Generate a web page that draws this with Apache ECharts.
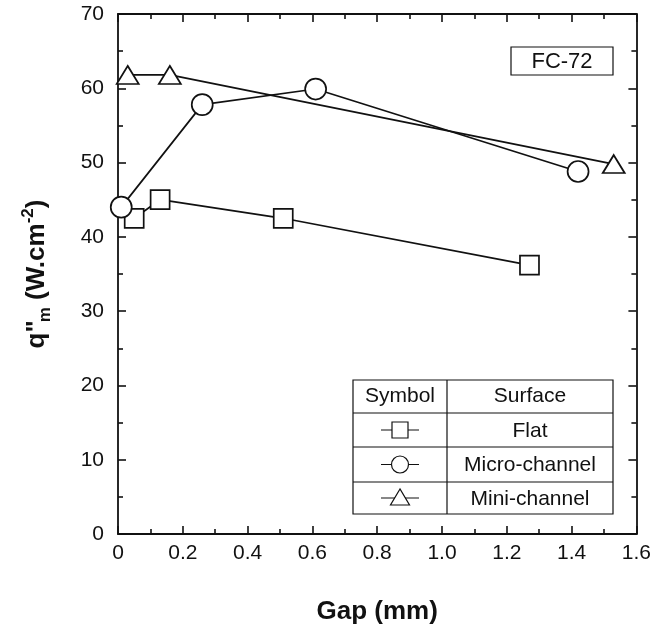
<!DOCTYPE html>
<html>
<head>
<meta charset="utf-8">
<script src="https://cdn.jsdelivr.net/npm/echarts@6/dist/echarts.min.js"></script>
<style>
  html, body { margin: 0; padding: 0; background: #fff; }
  #chart { width: 654px; height: 630px; }
</style>
</head>
<body>
<div id="chart"></div>
<script>
// gap (mm) vs q"m (W/cm2)
const flatGap = [0.05, 0.13, 0.51, 1.27]
const flatQ = [42.5, 45.0, 42.5, 36.2]
const microGap = [0.01, 0.26, 0.61, 1.42]
const microQ = [44.0, 57.8, 59.9, 48.8]
const miniGap = [0.03, 0.16, 1.53]
const miniQ = [61.8, 61.8, 49.8]

const legendRows = ['Flat', 'Micro-channel', 'Mini-channel']
const legendSymbols = ['rect', 'circle', 'triangle']

const FONT = '"Liberation Sans", Arial, Helvetica, sans-serif'
const INK = '#111'

const chart = echarts.init(document.getElementById('chart'), null, { renderer: 'canvas' })

const zip = (xs, ys) => xs.map((x, i) => [x, ys[i]])

function series(name, xs, ys, symbol, size) {
  return {
    name,
    type: 'line',
    data: zip(xs, ys),
    symbol,
    symbolSize: size,
    clip: false,
    lineStyle: { color: INK, width: 1.7 },
    itemStyle: { color: '#fff', borderColor: INK, borderWidth: 1.7 },
    emphasis: { disabled: true },
    z: 3,
  }
}

const tick = { show: true, inside: true, length: 8, lineStyle: { color: INK, width: 1.6 } }
const minor = { show: true, splitNumber: 2, length: 5, lineStyle: { color: INK, width: 1.6 } }
const line = { show: true, onZero: false, lineStyle: { color: INK, width: 1.8 } }

// legend table
const L = { x: 353, y: 380, w: 260, h: 134, col: 447, rows: [413, 447, 482] }
const rowCenters = [(413 + 447) / 2, (447 + 482) / 2, (482 + 514) / 2]
const symX = (L.x + L.col) / 2
const txtX = (L.col + L.x + L.w) / 2
const stroke = { stroke: INK, lineWidth: 1.2 }

const legendGraphics = [
  { type: 'rect', shape: { x: L.x, y: L.y, width: L.w, height: L.h }, style: { fill: '#fff', ...stroke } },
  { type: 'line', shape: { x1: L.col, y1: L.y, x2: L.col, y2: L.y + L.h }, style: stroke },
  ...L.rows.map(y => ({ type: 'line', shape: { x1: L.x, y1: y, x2: L.x + L.w, y2: y }, style: stroke })),
  { type: 'text', x: symX, y: (L.y + L.rows[0]) / 2, style: { text: 'Symbol', font: '21px ' + FONT, fill: INK, align: 'center', verticalAlign: 'middle' } },
  { type: 'text', x: txtX, y: (L.y + L.rows[0]) / 2, style: { text: 'Surface', font: '21px ' + FONT, fill: INK, align: 'center', verticalAlign: 'middle' } },
]
legendRows.forEach((label, i) => {
  const cy = rowCenters[i]
  legendGraphics.push({ type: 'line', shape: { x1: symX - 19, y1: cy, x2: symX + 19, y2: cy }, style: stroke })
  const s = legendSymbols[i]
  if (s === 'rect') {
    legendGraphics.push({ type: 'rect', shape: { x: symX - 8, y: cy - 8, width: 16, height: 16 }, style: { fill: '#fff', ...stroke } })
  } else if (s === 'circle') {
    legendGraphics.push({ type: 'circle', shape: { cx: symX, cy, r: 8.5 }, style: { fill: '#fff', ...stroke } })
  } else {
    legendGraphics.push({ type: 'polygon', shape: { points: [[symX, cy - 9], [symX - 9.5, cy + 7], [symX + 9.5, cy + 7]] }, style: { fill: '#fff', ...stroke } })
  }
  legendGraphics.push({ type: 'text', x: txtX, y: cy + 1, style: { text: label, font: '21px ' + FONT, fill: INK, align: 'center', verticalAlign: 'middle' } })
})

chart.setOption({
  animation: false,
  backgroundColor: '#fff',
  textStyle: { fontFamily: FONT },
  grid: { left: 118, right: 17, top: 14, bottom: 96 },
  xAxis: [
    {
      type: 'value', min: 0, max: 1.6, interval: 0.2,
      name: 'Gap (mm)', nameLocation: 'middle', nameGap: 65,
      nameTextStyle: { fontFamily: FONT, fontSize: 26, fontWeight: 'bold', color: INK },
      axisLine: line, axisTick: tick, minorTick: minor, splitLine: { show: false },
      axisLabel: {
        fontFamily: FONT, fontSize: 21, color: INK, margin: 9,
        formatter: v => (v === 0 ? '0' : v.toFixed(1)),
      },
    },
    {
      type: 'value', min: 0, max: 1.6, interval: 0.2, position: 'top',
      axisLine: line, axisTick: tick, minorTick: minor, splitLine: { show: false },
      axisLabel: { show: false },
    },
  ],
  yAxis: [
    {
      type: 'value', min: 0, max: 70, interval: 10,
      name: '{b|q"}{sub|m}{b| (W.cm}{sup|-2}{b|)}',
      nameLocation: 'middle', nameGap: 64, nameRotate: 90,
      nameTextStyle: {
        color: INK,
        rich: {
          b: { fontFamily: FONT, fontSize: 26, fontWeight: 'bold', color: INK, lineHeight: 34, verticalAlign: 'middle' },
          sub: { fontFamily: FONT, fontSize: 17, fontWeight: 'bold', color: INK, lineHeight: 34, verticalAlign: 'bottom', padding: [0, 0, 0, -2] },
          sup: { fontFamily: FONT, fontSize: 17, fontWeight: 'bold', color: INK, lineHeight: 34, verticalAlign: 'top' },
        },
      },
      axisLine: line, axisTick: tick, minorTick: minor, splitLine: { show: false },
      axisLabel: { fontFamily: FONT, fontSize: 21, color: INK, margin: 14 },
    },
    {
      type: 'value', min: 0, max: 70, interval: 10, position: 'right',
      axisLine: line, axisTick: tick, minorTick: minor, splitLine: { show: false },
      axisLabel: { show: false },
    },
  ],
  series: [
    series('Flat', flatGap, flatQ, 'rect', 19),
    series('Micro-channel', microGap, microQ, 'circle', 21),
    series('Mini-channel', miniGap, miniQ, 'triangle', [22, 18]),
  ],
  graphic: [
    {
      type: 'group',
      children: [
        { type: 'rect', shape: { x: 511, y: 47, width: 102, height: 28 }, style: { fill: '#fff', stroke: INK, lineWidth: 1.2 } },
        { type: 'text', x: 562, y: 62, style: { text: 'FC-72', font: '22px ' + FONT, fill: INK, align: 'center', verticalAlign: 'middle' } },
      ],
    },
    { type: 'group', children: legendGraphics },
  ],
})
</script>
</body>
</html>
